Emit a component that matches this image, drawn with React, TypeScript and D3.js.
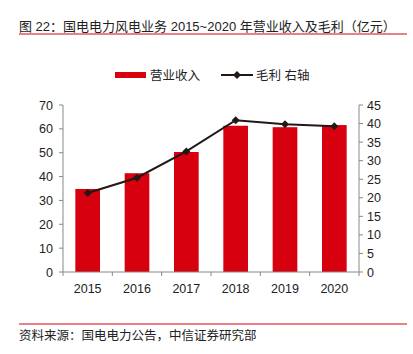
import React from "react";
import * as d3 from "d3";

const years = ["2015", "2016", "2017", "2018", "2019", "2020"];
const revenue = [34.8, 41.4, 50.3, 61.3, 60.7, 61.6];
const grossProfit = [21.3, 25.4, 32.5, 40.9, 39.8, 39.3];
const leftTicks = [0, 10, 20, 30, 40, 50, 60, 70];
const rightTicks = [0, 5, 10, 15, 20, 25, 30, 35, 40, 45];

const W = 413, H = 354;
const x0 = 63, x1 = 359, yTop = 105, yBot = 272;
const RED = "#d7000f";
const DARK = "#231815";
const AXIS = "#888";
const FONT = "'Liberation Sans', Arial, 'Noto Sans CJK SC', sans-serif";

export default function App() {
  const x = d3.scaleBand<string>().domain(years).range([x0, x1]).paddingInner(0.5).paddingOuter(0.25);
  const yL = d3.scaleLinear().domain([0, 70]).range([yBot, yTop]);
  const yR = d3.scaleLinear().domain([0, 45]).range([yBot, yTop]);
  const line = d3.line<number>()
    .x((_, i) => (x(years[i]) as number) + x.bandwidth() / 2)
    .y((d) => yR(d));
  const diamond = (cx: number, cy: number, r: number) =>
    `M${cx},${cy - r}L${cx + r},${cy}L${cx},${cy + r}L${cx - r},${cy}Z`;
  const boundaries = d3.range(years.length + 1).map((i) => x0 + i * ((x1 - x0) / years.length));

  return (
    <svg width={W} height={H} style={{ position: "absolute", left: 0, top: 0, background: "#fff" }}>
      <rect x={0} y={0} width={W} height={H} fill="#fff" />
      <text x={19} y={31} fontSize={13} fill="#222" fontFamily={FONT}>图 22：国电电力风电业务 2015~2020 年营业收入及毛利（亿元）</text>
      <line x1={19} x2={407} y1={34} y2={34} stroke={RED} strokeWidth={1} />

      {/* legend */}
      <rect x={115} y={72} width={31} height={6} fill={RED} />
      <text x={150} y={80} fontSize={12.5} fill="#222" fontFamily={FONT}>营业收入</text>
      <line x1={221} x2={253} y1={75} y2={75} stroke={DARK} strokeWidth={2} />
      <path d={diamond(237, 75, 4)} fill={DARK} />
      <text x={256} y={80} fontSize={12.5} fill="#222" fontFamily={FONT}>毛利 右轴</text>

      {/* bars */}
      {revenue.map((v, i) => (
        <rect key={i} x={x(years[i])} y={yL(v)} width={x.bandwidth()} height={yBot - yL(v)} fill={RED} />
      ))}

      {/* axes */}
      <line x1={x0} x2={x0} y1={yTop} y2={yBot} stroke={AXIS} />
      <line x1={x1} x2={x1} y1={yTop} y2={yBot} stroke={AXIS} />
      <line x1={x0} x2={x1} y1={yBot} y2={yBot} stroke={AXIS} />
      {leftTicks.map((t) => (
        <g key={t}>
          <line x1={x0 - 4} x2={x0} y1={yL(t)} y2={yL(t)} stroke={AXIS} />
          <text x={53} y={yL(t) + 4.5} fontSize={12.5} textAnchor="end" fill="#222" fontFamily={FONT}>{t}</text>
        </g>
      ))}
      {rightTicks.map((t) => (
        <g key={t}>
          <line x1={x1} x2={x1 + 4} y1={yR(t)} y2={yR(t)} stroke={AXIS} />
          <text x={367} y={yR(t) + 4.5} fontSize={12.5} textAnchor="start" fill="#222" fontFamily={FONT}>{t}</text>
        </g>
      ))}
      {boundaries.map((b, i) => (
        <line key={i} x1={b} x2={b} y1={yBot} y2={yBot + 4} stroke={AXIS} />
      ))}
      {years.map((yr) => (
        <text key={yr} x={(x(yr) as number) + x.bandwidth() / 2} y={293} fontSize={12.5} textAnchor="middle" fill="#222" fontFamily={FONT}>{yr}</text>
      ))}

      {/* line */}
      <path d={line(grossProfit) || ""} fill="none" stroke={DARK} strokeWidth={2} />
      {grossProfit.map((v, i) => (
        <path key={i} d={diamond((x(years[i]) as number) + x.bandwidth() / 2, yR(v), 4)} fill={DARK} />
      ))}

      <line x1={19} x2={407} y1={324} y2={324} stroke={RED} strokeWidth={1} />
      <text x={19} y={340} fontSize={12.5} fill="#222" fontFamily={FONT}>资料来源：国电电力公告，中信证券研究部</text>
    </svg>
  );
}
